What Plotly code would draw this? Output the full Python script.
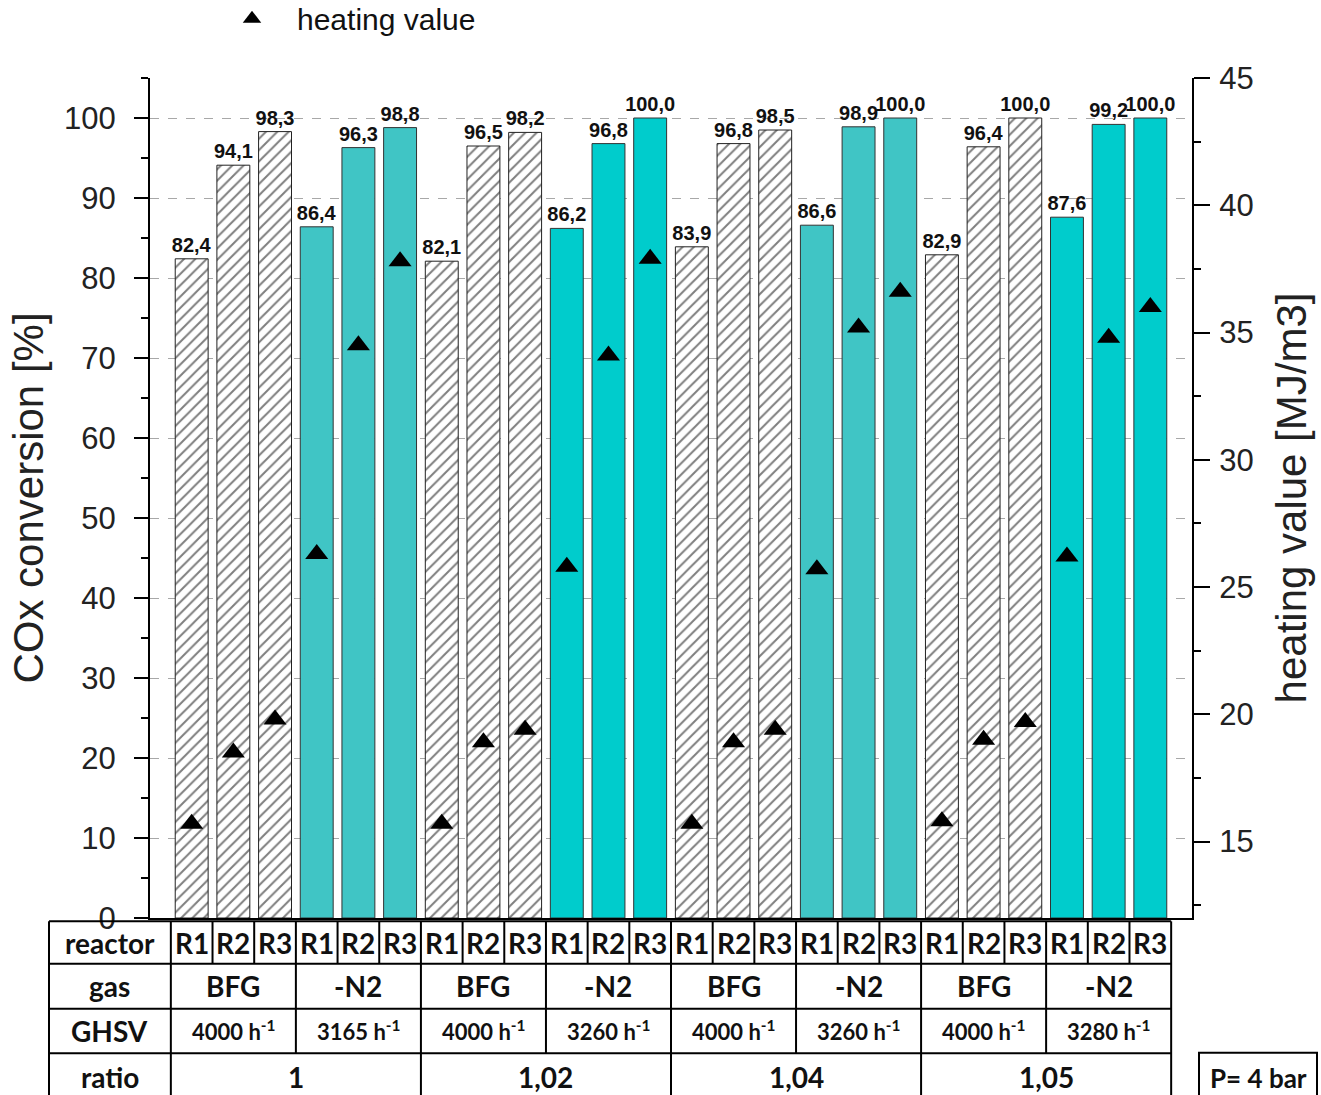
import plotly.graph_objects as go

# ---------------- data ----------------
ratios = ["1", "1,02", "1,04", "1,05"]
gases = ["BFG", "-N2"]
reactors = ["R1", "R2", "R3"]
ghsv = ["4000", "3165", "4000", "3260", "4000", "3260", "4000", "3280"]
conversion = [82.4, 94.1, 98.3, 86.4, 96.3, 98.8,
              82.1, 96.5, 98.2, 86.2, 96.8, 100.0,
              83.9, 96.8, 98.5, 86.6, 98.9, 100.0,
              82.9, 96.4, 100.0, 87.6, 99.2, 100.0]
heating = [15.7, 18.5, 19.8, 26.3, 34.5, 37.8,
           15.7, 18.9, 19.4, 25.8, 34.1, 37.9,
           15.7, 18.9, 19.4, 25.7, 35.2, 36.6,
           15.8, 19.0, 19.7, 26.2, 34.8, 36.0]
n2_colors = ["#40C5C5", "#00CCCC", "#40C5C5", "#00CCCC"]  # one per ratio group

# ---------------- layout helpers ----------------
n = len(conversion)
XMIN, XMAX = -1, n
idx = list(range(n))
bfg_idx = [i for i in idx if (i // 3) % 2 == 0]
n2_idx = [i for i in idx if (i // 3) % 2 == 1]


def lab(v):
    return f"{v:.1f}".replace(".", ",")


def bx(k):  # paper x of column boundary k (between category k-1 and k)
    return (k - 0.5 - XMIN) / (XMAX - XMIN)


FONT = "Liberation Sans, Arial, sans-serif"
TFONT = "Lato, Calibri, sans-serif"

fig = go.Figure()

fig.add_trace(go.Bar(
    x=bfg_idx, y=[conversion[i] for i in bfg_idx], width=0.79,
    marker=dict(color="white", line=dict(color="#222222", width=1),
                pattern=dict(shape="/", fgcolor="#000000", bgcolor="white",
                             size=8, solidity=0.25)),
    text=[lab(conversion[i]) for i in bfg_idx], textposition="outside",
    textfont=dict(family=FONT, size=20, color="#111111", weight="bold"),
    constraintext="none", cliponaxis=False, showlegend=False, hoverinfo="skip"))

fig.add_trace(go.Bar(
    x=n2_idx, y=[conversion[i] for i in n2_idx], width=0.79,
    marker=dict(color=[n2_colors[i // 6] for i in n2_idx],
                line=dict(color="#333333", width=1)),
    text=[lab(conversion[i]) for i in n2_idx], textposition="outside",
    textfont=dict(family=FONT, size=20, color="#111111", weight="bold"),
    constraintext="none", cliponaxis=False, showlegend=False, hoverinfo="skip"))

fig.add_trace(go.Scatter(
    x=idx, y=heating, yaxis="y2", mode="markers", name="heating value",
    marker=dict(symbol="triangle-up", size=20, color="black"),
    cliponaxis=False))

# ---------------- table under the plot ----------------
Y_TOP, Y1, Y2, Y3, Y_BOT = -0.004, -0.0544, -0.108, -0.161, -0.22
X_LEFT = (49 - 150) / 1042
shapes = []


def line(x0, y0, x1, y1):
    shapes.append(dict(type="line", xref="paper", yref="paper", x0=x0, y0=y0,
                       x1=x1, y1=y1, line=dict(color="black", width=2)))


for yy in (Y_TOP, Y1, Y2, Y3):
    line(X_LEFT, yy, bx(n), yy)
line(X_LEFT, Y_TOP, X_LEFT, Y_BOT)
line(bx(0), Y_TOP, bx(0), Y_BOT)
line(bx(n), Y_TOP, bx(n), Y_BOT)
for k in range(1, n):
    if k % 6 == 0:
        line(bx(k), Y_TOP, bx(k), Y_BOT)
    elif k % 3 == 0:
        line(bx(k), Y_TOP, bx(k), Y3)
    else:
        line(bx(k), Y_TOP, bx(k), Y1)

# P = 4 bar box
shapes.append(dict(type="rect", xref="paper", yref="paper",
                   x0=(1199 - 150) / 1042, x1=(1317 - 150) / 1042,
                   y0=(918.3 - 1053) / 840, y1=Y_BOT,
                   line=dict(color="black", width=2)))

ann = []


def txt(x, y, t, size=28):
    ann.append(dict(x=x, y=y, xref="paper", yref="paper", text=t,
                    showarrow=False, xanchor="center", yanchor="middle",
                    font=dict(family=TFONT, size=size, color="#111111",
                              weight="bold")))


lab_x = (X_LEFT + bx(0)) / 2
txt(lab_x, (Y_TOP + Y1) / 2, "reactor")
txt(lab_x, (Y1 + Y2) / 2, "gas")
txt(lab_x, (Y2 + Y3) / 2, "GHSV")
txt(lab_x, (918.3 - 1077) / 840, "ratio")
for i in idx:
    txt((bx(i) + bx(i + 1)) / 2, (Y_TOP + Y1) / 2, reactors[i % 3])
for g in range(n // 3):
    xc = (bx(3 * g) + bx(3 * g + 3)) / 2
    txt(xc, (Y1 + Y2) / 2, gases[g % 2])
    txt(xc, (Y2 + Y3) / 2, f"{ghsv[g]} h<sup>-1</sup>", size=22)
for r in range(len(ratios)):
    txt((bx(6 * r) + bx(6 * r + 6)) / 2, (918.3 - 1077) / 840, ratios[r])
txt((1258 - 150) / 1042, (918.3 - 1078) / 840, "P= 4 bar", size=26)

fig.update_layout(
    width=1321, height=1095,
    margin=dict(l=150, r=129, t=78, b=177, autoexpand=False),
    paper_bgcolor="white", plot_bgcolor="white",
    barmode="overlay",
    font=dict(family=FONT, color="#222222"),
    showlegend=True,
    legend=dict(x=(207 - 150) / 1042, y=(918.3 + 7) / 840,
                xanchor="left", yanchor="top", itemwidth=80,
                font=dict(family=FONT, size=30, color="#111111"),
                bgcolor="rgba(0,0,0,0)"),
    xaxis=dict(range=[XMIN, XMAX], showticklabels=False, ticks="",
               showgrid=False, zeroline=False, showline=True,
               linecolor="black", linewidth=2),
    yaxis=dict(range=[0, 105], dtick=10, tick0=0, ticks="outside",
               ticklen=14, tickwidth=2, tickcolor="black",
               showline=True, linecolor="black", linewidth=2,
               showgrid=True, gridcolor="#a8a8a8", griddash="dash",
               gridwidth=1, zeroline=False,
               tickfont=dict(family=FONT, size=31, color="#222222"),
               ticklabelstandoff=12,
               minor=dict(dtick=5, ticks="outside", ticklen=7,
                          tickwidth=2, tickcolor="black", showgrid=False),
               title=dict(text="COx conversion [%]", standoff=7,
                          font=dict(family=FONT, size=42, color="#222222"))),
    yaxis2=dict(range=[12, 45], dtick=5, tick0=0, overlaying="y",
                side="right", ticks="outside", ticklen=16, tickwidth=2,
                tickcolor="black", showline=True, linecolor="black",
                linewidth=2, showgrid=False, zeroline=False,
                tickfont=dict(family=FONT, size=31, color="#222222"),
                ticklabelstandoff=3,
                minor=dict(dtick=2.5, ticks="outside", ticklen=7,
                           tickwidth=2, tickcolor="black", showgrid=False),
                title=dict(text="heating value [MJ/m3]", standoff=24,
                           font=dict(family=FONT, size=42, color="#222222"))),
    shapes=shapes,
    annotations=ann,
)

fig.write_html("out.html", config={"displayModeBar": False},
               post_script="document.body.style.margin='0';")
